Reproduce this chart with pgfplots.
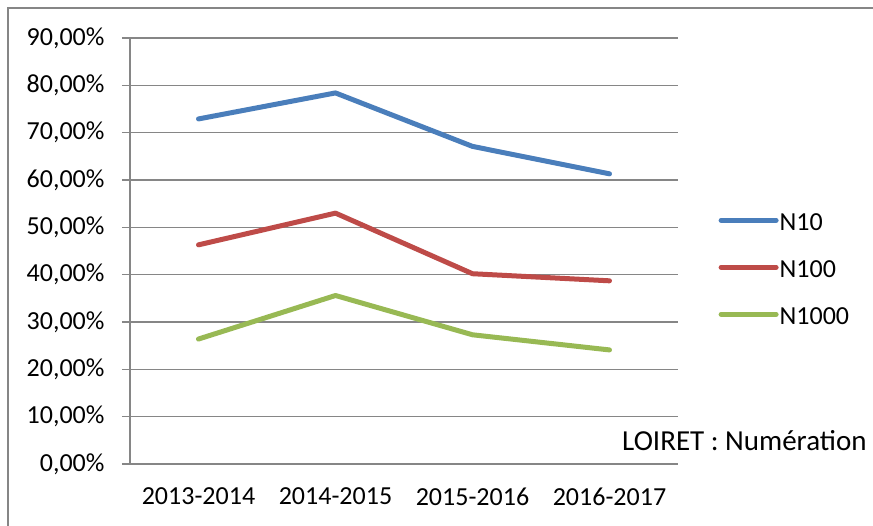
\documentclass[border=0pt]{standalone}
\usepackage{fontspec}
\setmainfont{Carlito}
\usepackage{pgfplots}
\pgfplotsset{compat=1.18}
\definecolor{gridgray}{HTML}{868686}
\definecolor{xlblue}{HTML}{4A7EBB}
\definecolor{xlred}{HTML}{BE4B48}
\definecolor{xlgreen}{HTML}{98B954}

\begin{document}
\begin{tikzpicture}[x=1pt,y=1pt]
\begin{axis}[
    at={(0,0)}, anchor=south west,
    scale only axis,
    width=548pt, height=426pt,
    xmin=-0.5, xmax=3.5,
    ymin=0, ymax=90,
    xtick={0,1,2,3},
    xticklabels={2013-2014,2014-2015,2015-2016,2016-2017},
    extra x ticks={-0.5,0.5,1.5,2.5,3.5},
    extra x tick labels={},
    extra x tick style={major tick length=8pt, tick style={gridgray, line width=1.5pt}},
    x tick style={draw=none},
    ytick={0,10,...,90},
    yticklabels={{0,00\%},{10,00\%},{20,00\%},{30,00\%},{40,00\%},{50,00\%},{60,00\%},{70,00\%},{80,00\%},{90,00\%}},
    y tick style={gridgray, line width=1.5pt},
    major tick length=8pt,
    tick align=outside,
    ymajorgrids=true,
    major grid style={gridgray, line width=1.5pt},
    axis x line*=bottom, axis y line*=left,
    axis line style={gridgray, line width=1.5pt, -},
    tick label style={font=\fontsize{26}{30}\selectfont, black},
    yticklabel style={xshift=-14pt},
    xticklabel style={yshift=-12pt},
    legend style={draw=none, fill=none, at={(axis cs:3.795,53.0)}, anchor=north west,
        font=\fontsize{26}{30}\selectfont, inner sep=0pt, row sep=29pt,
        nodes={inner sep=1pt, text height=16pt, text depth=0pt}},
    legend cell align={left},
    legend image code/.code={\draw[#1] (0pt,2pt) -- (55pt,2pt);},
    clip=false,
]
\addplot[xlblue, line width=5pt, line cap=round, line join=round]
  coordinates {(0,72.9)(1,78.4)(2,67.1)(3,61.3)};
\addlegendentry{N10}
\addplot[xlred, line width=5pt, line cap=round, line join=round]
  coordinates {(0,46.3)(1,53.0)(2,40.2)(3,38.7)};
\addlegendentry{N100}
\addplot[xlgreen, line width=5pt, line cap=round, line join=round]
  coordinates {(0,26.4)(1,35.6)(2,27.3)(3,24.1)};
\addlegendentry{N1000}
\end{axis}
\node[anchor=base west, inner sep=0pt, font=\fontsize{29}{33}\selectfont] at (492,13) {LOIRET : Numération};
\draw[gridgray, line width=1.5pt] (-122,-80) -- (-122,456) -- (760,456);
\pgfresetboundingbox
\useasboundingbox (-130,-61) rectangle (743,464);
\end{tikzpicture}
\end{document}
